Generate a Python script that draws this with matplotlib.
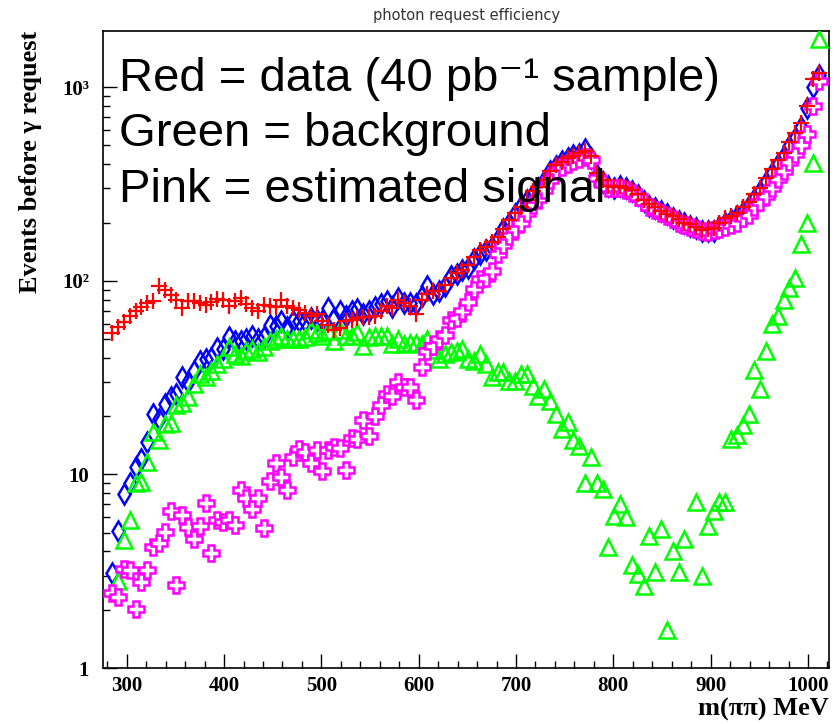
import numpy as np
import matplotlib
matplotlib.use("Agg")
import matplotlib.pyplot as plt
from matplotlib.ticker import FixedLocator, LogLocator, NullFormatter, MultipleLocator

# 6 MeV bins, 285 .. 1011 MeV
mass = np.arange(285, 1012, 6)

data_red = [
    54, 58, 61, 66, 70, 73, 77, 79, 94, 90,
    84, 80, 72, 79, 79, 77, 75, 78, 81, 80,
    74, 79, 82, 76, 72, 70, 75, 74, 73, 80,
    74, 72, 71, 68, 66, 67, 62, 59, 56, 57,
    62, 63, 64, 65, 65, 66, 70, 74, 72, 80,
    77, 74, 67, 80, 85, 89, 89, 95, 104, 110,
    114, 120, 132, 145, 150, 158, 168, 186, 205, 225,
    240, 262, 290, 305, 330, 370, 395, 410, 430, 440,
    455, 470, 440, 360, 330, 310, 305, 310, 300, 295,
    280, 262, 250, 240, 230, 222, 215, 208, 200, 196,
    190, 182, 185, 188, 200, 210, 215, 225, 240, 255,
    280, 300, 340, 380, 420, 460, 520, 580, 650, 800,
    1100, 1180,
]

mc_blue = [
    3.1, 5.1, 7.9, 9.0, 10.9, 12.0, 14.7, 20.6, 19.4, 23,
    25, 26, 31.8, 30, 34.4, 38.7, 39.5, 40, 45, 44.4,
    51, 49, 49, 50, 52, 50, 51.5, 59, 58.5, 62,
    58, 62, 62, 62, 64.5, 63, 62, 72.8, 64.5, 70,
    66, 70, 71.5, 67, 70, 73, 76, 78.7, 73, 82,
    77, 77, 76, 83.7, 94, 85.5, 89, 94, 106, 108,
    114, 117, 130, 137, 145, 150, 164, 185, 200, 221,
    244, 260, 280, 300, 328, 369, 392, 415, 433, 445,
    450, 478, 430, 350, 325, 310, 303, 309, 300, 290,
    279, 258, 244, 239, 229, 221, 212, 204, 198, 193,
    188, 181, 181, 181, 190, 198, 205, 215, 228, 244,
    265, 290, 325, 360, 400, 441, 496, 548, 620, 780,
    1000, 1150,
]

bkg_green = [
    np.nan, 2.8, 4.6, 5.8, 9.0, 9.1, 11.6, 16.5, 15.0, 18.2,
    18.4, 22.7, 23.5, 25, 29.4, 33, 31.8, 34.4, 37, 39.5,
    45.3, 41.9, 41, 43.5, 44.4, 42.7, 45.3, 49, 50, 52,
    50, 50, 50, 51, 56, 54, 52, 55, 49, 56,
    52, 52, 54.4, 46, 51, 52, 52, 52, 47, 50,
    47, 48, 48, 47, 50, 44, 39.5, 41.8, 42.7, 43.5,
    44.4, 39.5, 38.7, 41.8, 37.3, 31.8, 33.7, 33.7, 30.5, 30.5,
    33, 33, 28.7, 25.5, 27.6, 24, 20.6, 17.2, 18.6, 15,
    14.1, 9.0, 12.3, 9.0, 8.4, 4.2, 6.1, 7.0, 6.0, 3.4,
    3.05, 2.66, 4.8, 3.14, 5.2, 1.58, 4.0, 3.14, 4.66, np.nan,
    7.2, 3.0, 5.4, 6.45, 7.2, 7.2, 15.3, 16.0, 17.9, 20.6,
    34.7, 27.7, 43.6, 60, 66, 80, 92, 104, 155, 200,
    405, 1780,
]

sig_pink = [
    2.45, 2.33, 3.26, 3.2, 2.03, 2.78, 3.2, 4.22, 4.4, 5.04,
    6.47, 2.7, 6.2, 5.35, 4.66, 5.4, 7.1, 3.93, 5.84, 5.68,
    5.8, 5.45, 8.27, 7.6, 6.66, 7.6, 5.3, 9.3, 11.4, 9.7,
    8.27, 12.3, 13.5, 13.0, 11.4, 13.3, 10.4, 13.3, 13.8, 13.7,
    10.6, 15.5, 15.3, 19, 15.7, 20.1, 22.7, 26, 25.5, 29.9,
    28.2, 28.2, 24.3, 35.7, 43.5, 46, 50, 52.8, 63, 64.5,
    70, 77.3, 90.6, 101.7, 104, 112.5, 137, 154, 170, 185,
    200, 225, 245, 265, 295, 330, 370, 385, 400, 415,
    425, 435, 420, 340, 315, 300, 300, 300, 295, 285,
    270, 255, 240, 232, 225, 215, 208, 200, 195, 190,
    185, 180, 178, 182, 185, 190, 195, 200, 210, 220,
    240, 255, 275, 300, 335, 370, 410, 450, 500, 570,
    800, 1080,
]

ytick_vals = [1, 10, 100, 1000]
ytick_text = ["1", "10", "10²", "10³"]

fig = plt.figure(figsize=(8.34, 7.24), dpi=100)
ax = fig.add_axes([0.1235, 0.0773, 0.8705, 0.8798])

ax.plot(mass, mc_blue, linestyle="none", marker="d", markersize=10,
        markerfacecolor="none", markeredgecolor="#0000ff", markeredgewidth=1.8, zorder=3)
ax.plot(mass, bkg_green, linestyle="none", marker="^", markersize=11,
        markerfacecolor="none", markeredgecolor="#00ff00", markeredgewidth=1.8, zorder=3)
ax.plot(mass, sig_pink, linestyle="none", marker="P", markersize=12,
        markerfacecolor="white", markeredgecolor="#ff00ff", markeredgewidth=1.8, zorder=4)
ax.plot(mass, data_red, linestyle="none", marker="+", markersize=11,
        markeredgecolor="#ff0000", markeredgewidth=1.6, zorder=5)

ax.set_yscale("log")
ax.set_xlim(275.6, 1021.6)
ax.set_ylim(1, 1950)

ax.xaxis.set_major_locator(MultipleLocator(100))
ax.xaxis.set_minor_locator(MultipleLocator(20))
ax.yaxis.set_major_locator(FixedLocator(ytick_vals))
ax.set_yticklabels(ytick_text)
ax.yaxis.set_minor_locator(LogLocator(base=10, subs=np.arange(2, 10)))
ax.yaxis.set_minor_formatter(NullFormatter())

ax.tick_params(which="both", direction="in", top=False, right=False, width=1)
ax.tick_params(which="major", length=10)
ax.tick_params(which="minor", length=5)
for lab in ax.get_xticklabels() + ax.get_yticklabels():
    lab.set_fontfamily("Liberation Serif")
    lab.set_fontweight("bold")
    lab.set_fontsize(15)
ax.tick_params(axis="y", pad=10)
ax.tick_params(axis="x", pad=6)
for s in ax.spines.values():
    s.set_linewidth(1.2)

fig.text(0.036, 0.957, "Events before γ request", rotation=90, ha="center", va="top",
         fontsize=19, fontweight="bold", family="Liberation Serif")
fig.text(0.994, 0.004, "m(ππ) MeV", ha="right", va="bottom",
         fontsize=19, fontweight="bold", family="Liberation Serif")
fig.text(0.56, 0.978, "photon request efficiency", ha="center", va="center",
         fontsize=10.5, color="#333333", family="DejaVu Sans")

big = ["Red = data (40 pb⁻¹ sample)", "Green = background", "Pink = estimated signal"]
for i, line in enumerate(big):
    ax.text(0.022, 0.925 - i * 0.087, line, transform=ax.transAxes, ha="left", va="center",
            fontsize=34, family=["Liberation Sans", "DejaVu Sans"], zorder=6)

fig.savefig("out.png", dpi=100)
